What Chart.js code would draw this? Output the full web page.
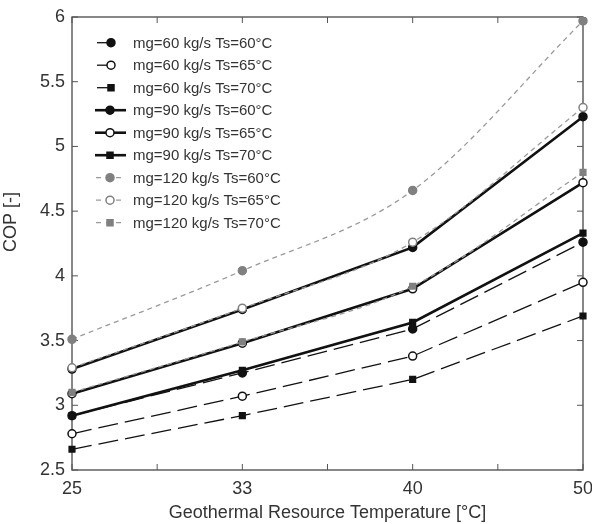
<!DOCTYPE html>
<html><head><meta charset="utf-8">
<script src="https://cdn.jsdelivr.net/npm/chart.js@4/dist/chart.umd.min.js"></script>
<style>html,body{margin:0;padding:0;background:#fff;}</style>
</head><body>
<canvas id="c" width="592" height="524"></canvas>
<script>
const xLabels = ['25', '33', '40', '50'];
const yTickValues = [2.5, 3, 3.5, 4, 4.5, 5, 5.5, 6];
const xTitle = 'Geothermal Resource Temperature [°C]';
const yTitle = 'COP [-]';

const cop60_60 = [2.92, 3.25, 3.59, 4.26];
const cop60_65 = [2.78, 3.07, 3.38, 3.95];
const cop60_70 = [2.66, 2.92, 3.20, 3.69];
const cop90_60 = [3.28, 3.74, 4.22, 5.23];
const cop90_65 = [3.09, 3.48, 3.90, 4.72];
const cop90_70 = [2.92, 3.27, 3.64, 4.33];
const cop120_60 = [3.51, 4.04, 4.66, 5.97];
const cop120_65 = [3.29, 3.75, 4.26, 5.30];
const cop120_70 = [3.10, 3.49, 3.92, 4.80];

const seriesLabels = [
  'mg=60 kg/s Ts=60°C', 'mg=60 kg/s Ts=65°C', 'mg=60 kg/s Ts=70°C',
  'mg=90 kg/s Ts=60°C', 'mg=90 kg/s Ts=65°C', 'mg=90 kg/s Ts=70°C',
  'mg=120 kg/s Ts=60°C', 'mg=120 kg/s Ts=65°C', 'mg=120 kg/s Ts=70°C'
];
const seriesData = [cop60_60, cop60_65, cop60_70, cop90_60, cop90_65, cop90_70, cop120_60, cop120_65, cop120_70];

const FONT = '"Liberation Sans", Arial, sans-serif';
const BLACK = '#111';
const GREY = '#808080';
const GREYL = '#9a9a9a';

function styleFor(i) {
  const group = Math.floor(i / 3), ts = i % 3;
  let s = {};
  if (group === 0) { s = {borderColor: BLACK, borderWidth: 1.3, borderDash: [20, 7], mcol: BLACK, order: 2}; }
  else if (group === 1) { s = {borderColor: BLACK, borderWidth: 2.6, borderDash: [], mcol: BLACK, order: 1}; }
  else { s = {borderColor: GREYL, borderWidth: 1.3, borderDash: [5, 4], mcol: GREY, order: 0}; }
  s.shape = ts === 2 ? 'rect' : 'circle';
  s.fill = ts === 1 ? '#fff' : s.mcol;
  s.group = group;
  return s;
}

const datasets = seriesData.map((d, i) => {
  const s = styleFor(i);
  return {
    label: seriesLabels[i],
    data: d,
    borderColor: s.borderColor,
    borderWidth: s.borderWidth,
    borderDash: s.borderDash,
    cubicInterpolationMode: s.group === 2 ? 'monotone' : 'default',
    pointStyle: s.shape,
    pointRadius: 4,
    pointBackgroundColor: s.fill,
    pointBorderColor: s.mcol,
    pointBorderWidth: 1.5,
    fill: false,
    order: s.order
  };
});

function drawMarker(ctx, shape, x, y, r, fill, stroke) {
  ctx.save();
  ctx.setLineDash([]);
  ctx.lineWidth = 1.5;
  ctx.fillStyle = fill; ctx.strokeStyle = stroke;
  ctx.beginPath();
  if (shape === 'rect') { ctx.rect(x - r * 0.75, y - r * 0.75, r * 1.5, r * 1.5); }
  else { ctx.arc(x, y, r, 0, Math.PI * 2); }
  ctx.fill(); ctx.stroke();
  ctx.restore();
}

const framePlugin = {
  id: 'frame',
  beforeDatasetsDraw(chart) {
    const {ctx, chartArea: a, scales} = chart;
    ctx.save();
    ctx.strokeStyle = '#555';
    ctx.lineWidth = 1.4;
    ctx.strokeRect(a.left, a.top, a.right - a.left, a.bottom - a.top);
    const tl = 6;
    ctx.lineWidth = 1;
    ctx.beginPath();
    yTickValues.forEach(v => {
      const y = scales.y.getPixelForValue(v);
      ctx.moveTo(a.left, y); ctx.lineTo(a.left + tl, y);
      ctx.moveTo(a.right, y); ctx.lineTo(a.right - tl, y);
    });
    for (let i = 0; i < xLabels.length; i++) {
      const xs = [scales.x.getPixelForValue(i)];
      if (i < xLabels.length - 1) xs.push((scales.x.getPixelForValue(i) + scales.x.getPixelForValue(i + 1)) / 2);
      xs.forEach(x => {
        ctx.moveTo(x, a.bottom); ctx.lineTo(x, a.bottom - tl);
        ctx.moveTo(x, a.top); ctx.lineTo(x, a.top + tl);
      });
    }
    ctx.stroke();
    ctx.restore();
  },
  afterDraw(chart) {
    const {ctx, chartArea: a} = chart;
    ctx.save();
    ctx.fillStyle = '#333';
    ctx.font = '18px ' + FONT;
    ctx.textAlign = 'center';
    ctx.textBaseline = 'alphabetic';
    ctx.fillText(xTitle, (a.left + a.right) / 2, 518);
    ctx.save();
    ctx.translate(11, 222);
    ctx.rotate(-Math.PI / 2);
    ctx.textBaseline = 'middle';
    ctx.fillText(yTitle, 0, 0);
    ctx.restore();
    // legend
    ctx.font = '15px ' + FONT;
    ctx.textAlign = 'left';
    ctx.textBaseline = 'middle';
    chart.data.datasets.forEach((ds, i) => {
      const s = styleFor(i);
      const y = 42.7 + i * 22.5;
      ctx.save();
      ctx.strokeStyle = s.borderColor;
      ctx.lineWidth = s.borderWidth;
      ctx.beginPath();
      if (s.group === 0) { ctx.setLineDash([]); ctx.moveTo(97, y); ctx.lineTo(111, y); }
      else if (s.group === 1) { ctx.setLineDash([]); ctx.moveTo(95, y); ctx.lineTo(126, y); }
      else { ctx.setLineDash([5, 5]); ctx.moveTo(96, y); ctx.lineTo(126, y); }
      ctx.stroke();
      ctx.restore();
      drawMarker(ctx, s.shape, s.group === 0 ? 111 : 110, y, 4, s.fill, s.mcol);
      ctx.fillStyle = '#333';
      ctx.fillText(ds.label, 133, y + 1);
    });
    ctx.restore();
  }
};

new Chart(document.getElementById('c'), {
  type: 'line',
  data: {labels: xLabels, datasets},
  options: {
    responsive: false,
    devicePixelRatio: 1,
    animation: false,
    layout: {padding: {top: 17, right: 9, left: 0, bottom: 0}},
    plugins: {legend: {display: false}, tooltip: {enabled: false}},
    scales: {
      x: {
        type: 'category', offset: false,
        grid: {display: false, drawTicks: false}, border: {display: false},
        ticks: {color: '#333', font: {size: 18, family: FONT}, padding: 8, maxRotation: 0, autoSkip: false},
        afterFit(s) { s.height = 54; s.paddingLeft = 0; s.paddingRight = 0; }
      },
      y: {
        min: 2.5, max: 6,
        grid: {display: false, drawTicks: false}, border: {display: false},
        afterBuildTicks(s) { s.ticks = yTickValues.map(v => ({value: v})); },
        ticks: {color: '#333', font: {size: 18, family: FONT}, padding: 7, callback: v => String(v)},
        afterFit(s) { s.width = 72; s.paddingTop = 0; s.paddingBottom = 0; }
      }
    }
  },
  plugins: [framePlugin]
});
</script>
</body></html>
